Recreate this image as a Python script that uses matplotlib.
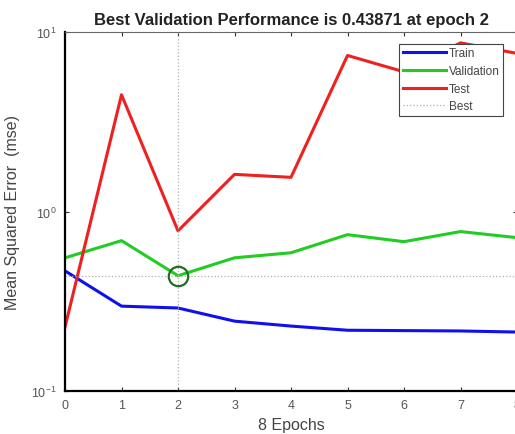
import numpy as np
import matplotlib
matplotlib.use('Agg')
import matplotlib.pyplot as plt
from matplotlib.ticker import LogLocator, NullLocator

epochs = [0, 1, 2, 3, 4, 5, 6, 7, 8]
train = [0.467, 0.297, 0.290, 0.245, 0.230, 0.218, 0.217, 0.216, 0.213]
validation = [0.552, 0.688, 0.43871, 0.552, 0.589, 0.743, 0.679, 0.773, 0.715]
test = [0.227, 4.47, 0.78, 1.61, 1.55, 7.4, 6.0, 8.7, 7.6]
best_epoch = 2
best_perf = 0.43871

plt.rcParams['font.family'] = ['Liberation Sans', 'DejaVu Sans']

fig = plt.figure(figsize=(5.15, 4.35), dpi=100)
ax = fig.add_axes([65/515, 43/435, 452/515, 359/435])

ax.plot(epochs, train, color='#1010ee', lw=2.2, label='Train')
ax.plot(epochs, validation, color='#22cc22', lw=2.2, label='Validation')
ax.plot(epochs, test, color='#ee2020', lw=2.2, label='Test')
ax.axvline(best_epoch, color='#b0b0b0', lw=0.9, ls=':', label='Best')
ax.axhline(best_perf, color='#b0b0b0', lw=0.9, ls=':')
ax.plot([best_epoch], [best_perf], 'o', ms=14, mfc='none', mec='#1f6f1f', mew=1.6)

ax.set_yscale('log')
ax.set_xlim(0, 8)
ax.set_ylim(0.1, 10)
ax.set_xticks(epochs)
ax.yaxis.set_major_locator(LogLocator(base=10))
ax.yaxis.set_minor_locator(NullLocator())
ax.tick_params(direction='in', length=3, top=True, right=True, labelsize=9, labelcolor='#555555',
               color='#333333', pad=6)
for s in ['left', 'bottom']:
    ax.spines[s].set_linewidth(1.6)
ax.spines['top'].set_color('#666666')

ax.set_title('Best Validation Performance is 0.43871 at epoch 2', fontsize=12, fontweight='bold', color='#222222', pad=6)
ax.set_xlabel('8 Epochs', fontsize=11.5, color='#444444', labelpad=4)
ax.set_ylabel('Mean Squared Error  (mse)', fontsize=11.5, color='#444444', labelpad=8)

leg = ax.legend(loc='upper right', bbox_to_anchor=(0.969, 0.967), fontsize=8.5, frameon=True, fancybox=False,
                framealpha=1, edgecolor='#444444', handlelength=3.65, handletextpad=0.25,
                borderpad=0.3, labelspacing=0.48, borderaxespad=0)
leg.get_frame().set_linewidth(0.8)
for t in leg.get_texts():
    t.set_color('#444444')

fig.savefig('out.png', dpi=100)
